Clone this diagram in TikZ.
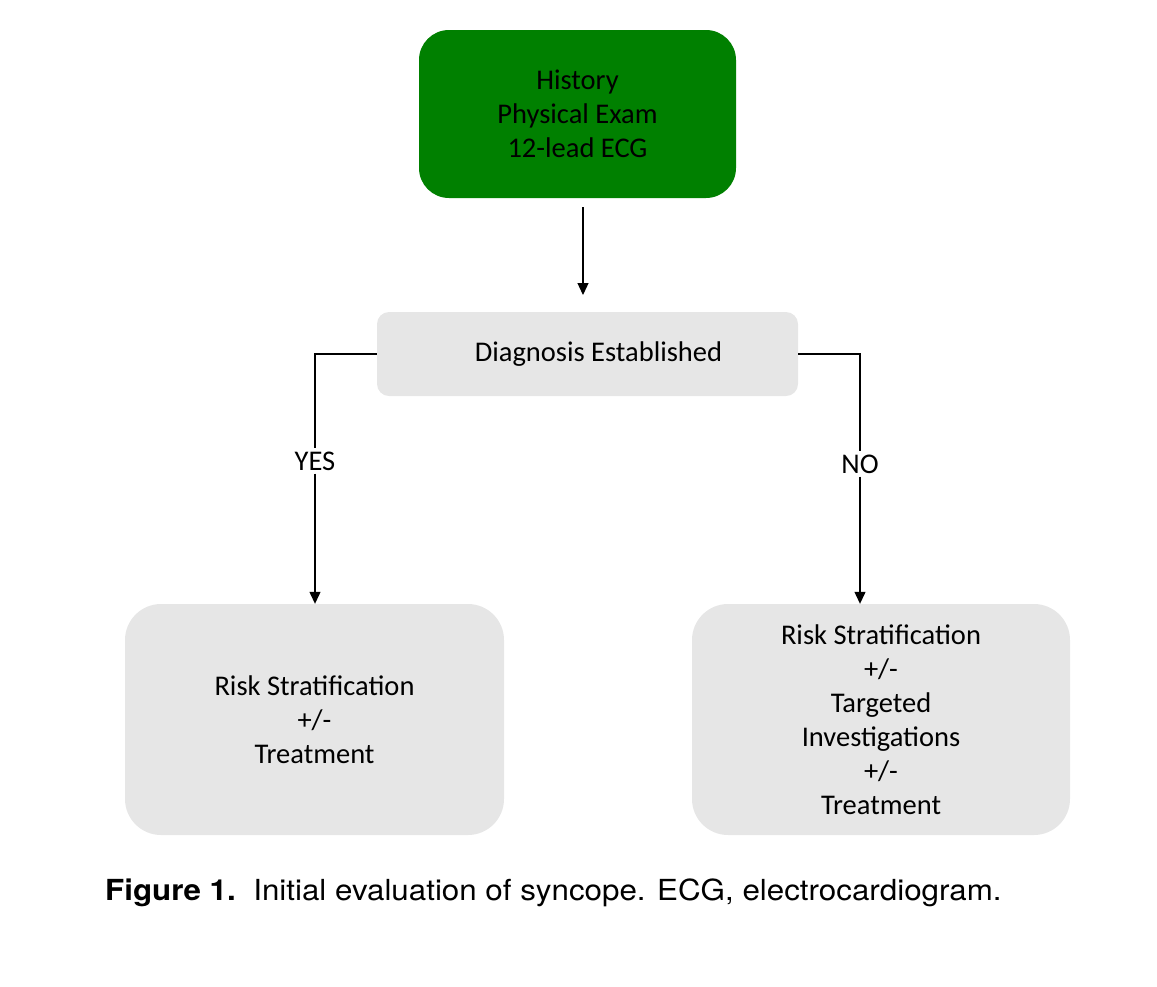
\documentclass[tikz,border=0pt]{standalone}
\usepackage{fontspec}
\setmainfont{Carlito}
\newfontfamily\capfont[FakeStretch=1.08]{TeX Gyre Heros}
\usetikzlibrary{arrows.meta}
\definecolor{boxgreen}{HTML}{008000}
\definecolor{boxgray}{HTML}{E6E6E6}
\tikzset{
  box/.style={draw=none, align=center, font=\fontsize{28.5}{34}\selectfont, inner sep=0pt},
  lbl/.style={font=\fontsize{28.5}{34}\selectfont, inner sep=3pt},
  conn/.style={line width=1.8pt, black},
  arr/.style={line width=1.2pt, black, -{Triangle[width=11pt,length=12pt]}},
}
\begin{document}
\begin{tikzpicture}[x=1pt,y=-1pt]
\useasboundingbox (0,0) rectangle (1157,986);
\node[box, fill=boxgreen, rounded corners=30pt, minimum width=317pt, minimum height=168pt] (hist) at (577.5,114) {History\\Physical Exam\\12-lead ECG};
\node[box, fill=boxgray, rounded corners=12pt, minimum width=421pt, minimum height=84pt] (diag) at (587.5,354) {\hspace*{22pt}Diagnosis Established};
\node[box, fill=boxgray, rounded corners=36pt, minimum width=379pt, minimum height=231pt] (lbox) at (314.5,719.5) {Risk Stratification\\+/-\\Treatment};
\node[box, fill=boxgray, rounded corners=36pt, minimum width=378pt, minimum height=231pt] (rbox) at (881,719.5) {Risk Stratification\\+/-\\Targeted\\Investigations\\+/-\\Treatment};
\node[lbl] (yes) at (315,461) {YES};
\node[lbl] (no) at (860,464) {NO};
\coordinate (histout) at (583,207);
\coordinate (diagin) at (583,295);
\draw[arr] (histout) -- (diagin);
\draw[conn] (diag.west) -| (yes.north);
\draw[conn] (diag.east) -| (no.north);
\draw[arr] (yes.south) -- (yes.south |- lbox.north);
\draw[arr] (no.south) -- (no.south |- rbox.north);
\node[anchor=base west, inner sep=0pt, font=\capfont\fontsize{29}{36}\selectfont] (cap) at (105,900) {\textbf{Figure 1.}\ \ Initial evaluation of syncope. ECG, electrocardiogram.};
\end{tikzpicture}
\end{document}
